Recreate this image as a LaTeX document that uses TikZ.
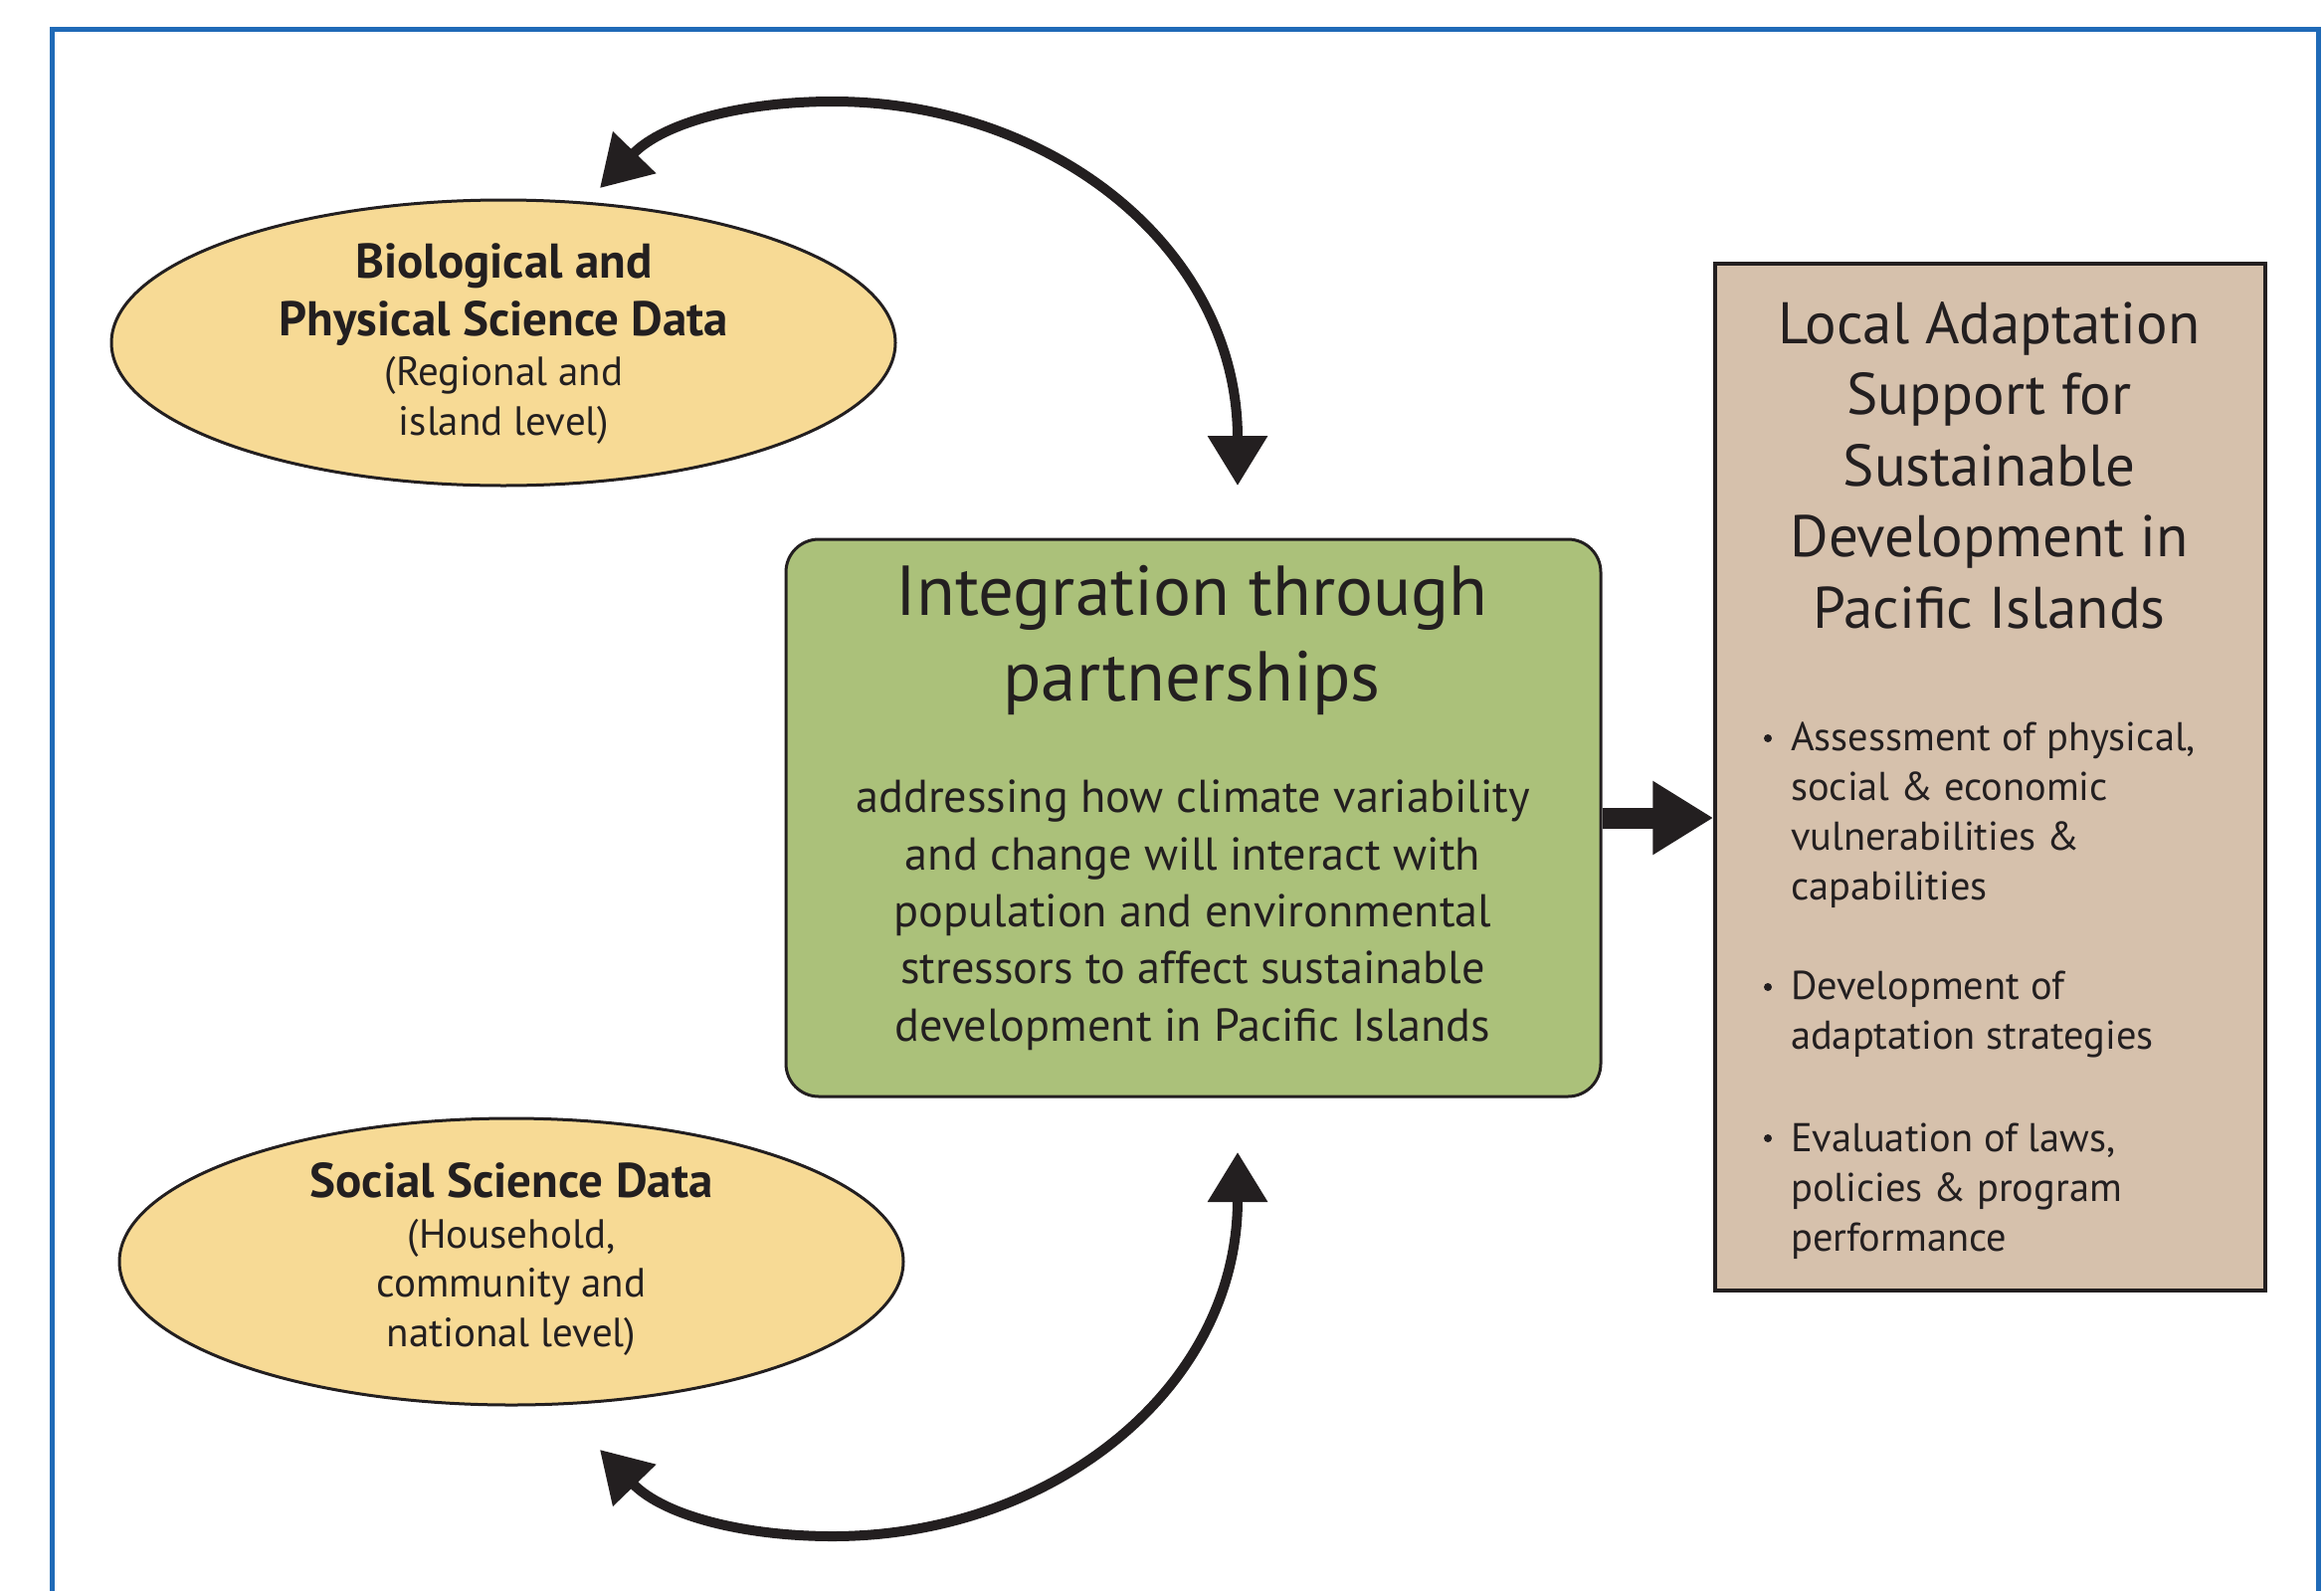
\documentclass[tikz,border=0pt]{standalone}
\usepackage{fontspec}
\setmainfont{PT Sans}
\usetikzlibrary{arrows.meta,shapes.geometric}

\definecolor{frameblue}{HTML}{1F6AB7}
\definecolor{sand}{HTML}{F7DA95}
\definecolor{sage}{HTML}{ABC17A}
\definecolor{boxtan}{HTML}{D6C1AC}
\definecolor{ink}{HTML}{231F20}

\tikzset{
  datablob/.style={ellipse, draw=ink, line width=3pt, fill=sand, inner sep=0pt},
  hubbox/.style={rectangle, rounded corners=33pt, draw=ink, line width=3pt, fill=sage, inner sep=0pt},
  goalbox/.style={rectangle, draw=ink, line width=3.5pt, fill=boxtan, inner sep=0pt},
  txt/.style={anchor=base, inner sep=0pt, text=ink},
  txtl/.style={anchor=base west, inner sep=0pt, text=ink},
  blobhead/.style={txt, font=\fontsize{49}{58}\selectfont\bfseries},
  blobsub/.style={txt, font=\fontsize{41}{50}\selectfont},
  hubtitle/.style={txt, font=\fontsize{71}{86}\selectfont},
  hubbody/.style={txt, font=\fontsize{46.3}{57}\selectfont},
  goaltitle/.style={txt, font=\fontsize{59}{71}\selectfont},
  goalitem/.style={txtl, font=\fontsize{40.4}{50}\selectfont},
  goaldot/.style={circle, fill=ink, inner sep=0pt, minimum size=8pt},
  loop/.style={draw=ink, line width=10pt,
    {Triangle[length=50pt,width=58pt]}-{Triangle[length=50pt,width=58pt]}},
  feed/.style={draw=ink, line width=21pt, -{Triangle[length=61pt,width=70pt]}}
}

\begin{document}
\begin{tikzpicture}[x=1pt,y=-1pt]
\useasboundingbox (0,0) rectangle (2336,1598);

% outer frame, open at the bottom edge
\draw[frameblue, line width=5pt, line join=miter]
  (52.5,1610) -- (52.5,29.5) -- (2330,29.5) -- (2330,1610);

% data sources
\node[datablob, minimum width=788pt, minimum height=287pt] (bio) at (506,344.5) {};
\node[datablob, minimum width=788pt, minimum height=288pt] (soc) at (514,1268) {};

\node[blobhead] (bio1) at (506.5,279) {Biological and};
\node[blobhead] (bio2) at (506.5,337) {Physical Science Data};
\node[blobsub]  (bio3) at (506.5,387) {(Regional and};
\node[blobsub]  (bio4) at (506.5,437) {island level)};

\node[blobhead] (soc1) at (514,1203) {Social Science Data};
\node[blobsub]  (soc2) at (514,1254) {(Household,};
\node[blobsub]  (soc3) at (514,1303.5) {community and};
\node[blobsub]  (soc4) at (514,1353) {national level)};

% integration hub
\node[hubbox, minimum width=819pt, minimum height=560pt] (hub) at (1199.5,822) {};
\node[hubtitle] (hubt1) at (1198,618) {Integration through};
\node[hubtitle] (hubt2) at (1198,704) {partnerships};
\foreach \line [count=\i] in {addressing how climate variability,
    and change will interact with,
    population and environmental,
    stressors to affect sustainable,
    development in Pacific Islands}
  \node[hubbody] (hubb\i) at (1199,{759.6+57.3*\i}) {\line};

% outcome box
\node[goalbox, minimum width=553pt, minimum height=1032pt] (goal) at (2000.5,781) {};
\foreach \line [count=\i] in {Local Adaptation, Support for, Sustainable,
    Development in, Pacific Islands}
  \node[goaltitle] (goalt\i) at (1999.5,{273.5+71.5*\i}) {\line};

\node[goaldot] (dot1) at (1777,742) {};
\node[goaldot] (dot2) at (1777,992) {};
\node[goaldot] (dot3) at (1777,1144) {};
\foreach \line [count=\i] in {{Assessment of physical,}, social \& economic,
    vulnerabilities \&, capabilities}
  \node[goalitem] (ga\i) at (1800,{703.8+50.2*\i}) {\line};
\foreach \line [count=\i] in {Development of, adaptation strategies}
  \node[goalitem] (gb\i) at (1800,{954.3+50.2*\i}) {\line};
\foreach \line [count=\i] in {{Evaluation of laws,}, policies \& program, performance}
  \node[goalitem] (gc\i) at (1800,{1106.8+50.2*\i}) {\line};

% exchange loops between the data sources and the hub
\coordinate (bioTip) at (603,189);
\coordinate (hubTop) at (1244,488);
\coordinate (socTip) at (603,1457);
\coordinate (hubBot) at (1244,1158);

\draw[loop] (bioTip) .. controls (668,122) and (750,102) .. (837,102)
  .. controls (1057,102) and (1244,250) .. (hubTop);
\draw[loop] (socTip) .. controls (668,1524) and (750,1544) .. (837,1544)
  .. controls (1057,1544) and (1244,1396) .. (hubBot);

% hub feeds the outcome box
\draw[feed] (hub.east) -- (hub.east -| goal.west);
\end{tikzpicture}
\end{document}
